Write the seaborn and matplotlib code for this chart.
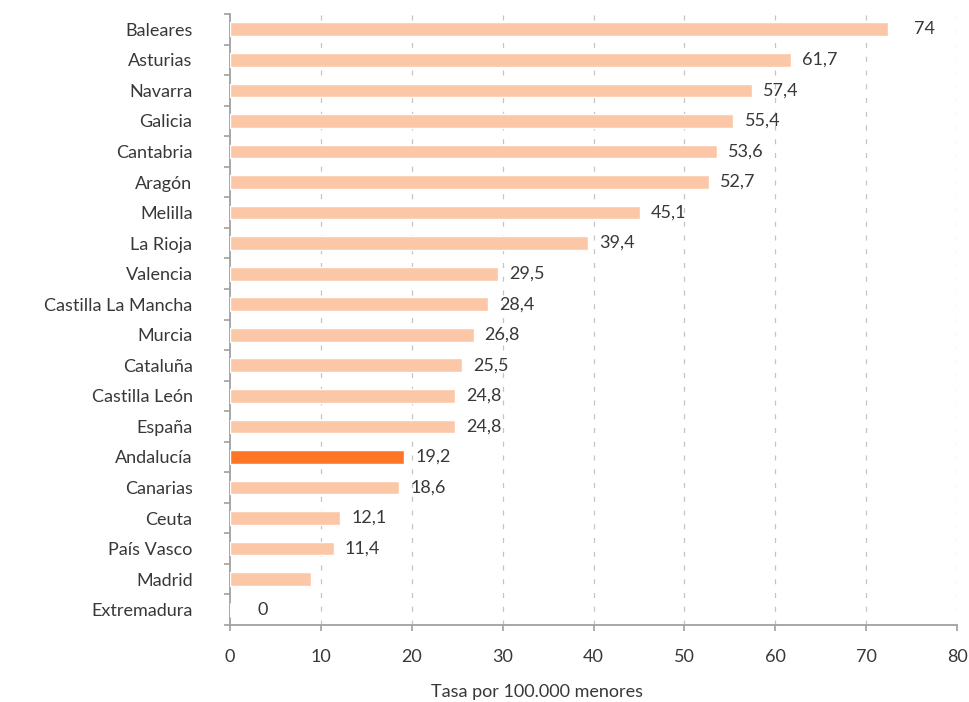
import seaborn as sns
import pandas as pd
import matplotlib.pyplot as plt
from matplotlib.ticker import MultipleLocator

REGIONS = [
    "Baleares", "Asturias", "Navarra", "Galicia", "Cantabria", "Aragón",
    "Melilla", "La Rioja", "Valencia", "Castilla La Mancha", "Murcia",
    "Cataluña", "Castilla León", "España", "Andalucía", "Canarias", "Ceuta",
    "País Vasco", "Madrid", "Extremadura",
]
VALUES = [72.4, 61.7, 57.4, 55.4, 53.6, 52.7, 45.1, 39.4, 29.5, 28.4,
          26.8, 25.5, 24.8, 24.8, 19.2, 18.6, 12.1, 11.4, 8.9, 0]
LABELS = ["74", "61,7", "57,4", "55,4", "53,6", "52,7", "45,1", "39,4",
          "29,5", "28,4", "26,8", "25,5", "24,8", "24,8", "19,2", "18,6",
          "12,1", "11,4", "", "0"]
HIGHLIGHT = "Andalucía"

LIGHT = "#FBC7A7"
DARK = "#FF7526"
TEXT = "#383838"
AXIS = "#a0a0a0"
FS = 13

sns.set_style("white")
plt.rcParams["font.family"] = ["Lato", "DejaVu Sans"]

df = pd.DataFrame({"region": REGIONS, "value": VALUES})
palette = {r: (DARK if r == HIGHLIGHT else LIGHT) for r in REGIONS}

fig = plt.figure(figsize=(9.69, 7.02), dpi=100)
ax = fig.add_axes([230 / 969, 1 - 625 / 702, 727 / 969, 611 / 702])

sns.barplot(data=df, x="value", y="region", hue="region", palette=palette,
            legend=False, width=0.45, saturation=1, ax=ax, zorder=3)

ax.set_xlim(0, 80)
ax.set_ylim(len(REGIONS) - 0.5, -0.5)
ax.xaxis.set_major_locator(MultipleLocator(10))

# dashed vertical grid
for x in range(10, 81, 10):
    ax.axvline(x, color="#c4c4c4", lw=0.9, ls=(0, (4, 7)), zorder=1)

# value labels
for i, lab in enumerate(LABELS):
    if not lab:
        continue
    xpos = float(lab.replace(",", "."))
    off = 20 if xpos == 0 else 8
    ax.annotate(lab, (xpos, i), xytext=(off, 0), textcoords="offset points",
                va="center", ha="left", fontsize=FS, color=TEXT)

for side in ["top", "right"]:
    ax.spines[side].set_visible(False)
for side in ["left", "bottom"]:
    ax.spines[side].set_color(AXIS)
    ax.spines[side].set_linewidth(1.3)

# y tick marks sit between categories
ax.set_yticks(range(len(REGIONS)))
ax.set_yticklabels(REGIONS)
ax.set_yticks([i - 0.5 for i in range(len(REGIONS) + 1)], minor=True)
ax.tick_params(axis="y", which="major", length=0, pad=27, labelsize=FS,
               labelcolor=TEXT)
ax.tick_params(axis="y", which="minor", length=4, width=1.2, color=AXIS,
               direction="out", left=True)
ax.tick_params(axis="x", which="major", length=4, width=1.2, color=AXIS,
               direction="out", bottom=True, pad=13, labelsize=FS,
               labelcolor=TEXT)

ax.set_ylabel("")
ax.set_xlabel("Tasa por 100.000 menores", fontsize=FS, color=TEXT)
ax.xaxis.set_label_coords(0.422, -0.11)
ax.xaxis.label.set_va("center")

fig.savefig("out.png", dpi=100)
